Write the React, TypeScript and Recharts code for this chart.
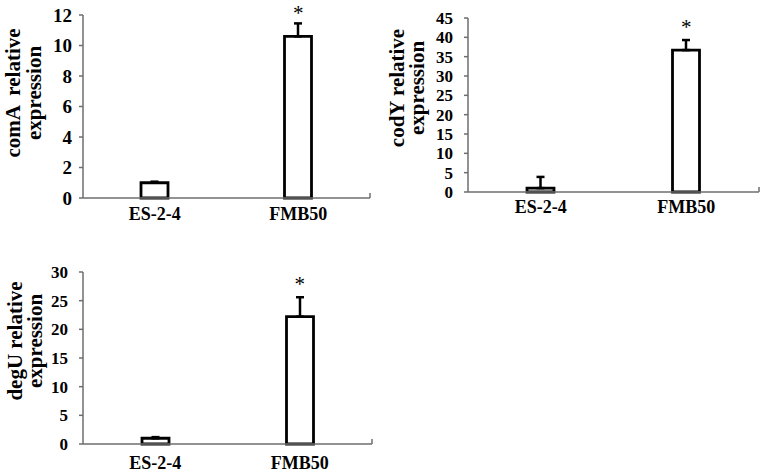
import React from "react";
import {
  BarChart,
  Bar,
  XAxis,
  YAxis,
  ErrorBar,
  ReferenceDot,
} from "recharts";

const categories = ["ES-2-4", "FMB50"];

const comAValues = [1.0, 10.6];
const comAErrors = [0.07, 0.85];
const comATicks = [0, 2, 4, 6, 8, 10, 12];

const codYValues = [1.0, 36.7];
const codYErrors = [2.9, 2.6];
const codYTicks = [0, 5, 10, 15, 20, 25, 30, 35, 40, 45];

const degUValues = [1.0, 22.2];
const degUErrors = [0.2, 3.4];
const degUTicks = [0, 5, 10, 15, 20, 25, 30];

const significance = ["", "*"];

const FONT = '"Liberation Serif", "Times New Roman", serif';
const AXIS = "#6e6e6e";

function buildRows(values: number[], errors: number[]) {
  return categories.map((name, i) => ({
    name,
    value: values[i],
    err: [0, errors[i]],
    top: values[i] + errors[i],
    sig: significance[i],
  }));
}

function XTick(props: any) {
  const { x, payload, index, plotRight, axisY, labelDy } = props;
  return (
    <g>
      <text
        x={x}
        y={axisY + labelDy}
        textAnchor="middle"
        fontFamily={FONT}
        fontWeight="bold"
        fontSize={18}
        fill="#000"
      >
        {payload.value}
      </text>
      {index === categories.length - 1 && (
        <line
          x1={plotRight}
          x2={plotRight}
          y1={axisY}
          y2={axisY - 5}
          stroke={AXIS}
          strokeWidth={1.5}
        />
      )}
    </g>
  );
}

type PanelProps = {
  left: number;
  top: number;
  width: number;
  height: number;
  margin: { top: number; right: number; left: number; bottom: number };
  yWidth: number;
  values: number[];
  errors: number[];
  ticks: number[];
  tickFont: number;
  tickMargin: number;
  line1: string;
  line2: string;
  labelX1: number;
  labelX2: number;
  labelY: number;
  labelDy: number;
  starDy: number;
};

function Panel(p: PanelProps) {
  const rows = buildRows(p.values, p.errors);
  const plotRight = p.width - p.margin.right;
  const axisY = p.height - p.margin.bottom - 30;
  const max = p.ticks[p.ticks.length - 1];
  return (
    <div style={{ position: "absolute", left: p.left, top: p.top }}>
      <BarChart
        width={p.width}
        height={p.height}
        data={rows}
        margin={p.margin}
        barCategoryGap={0}
      >
        <XAxis
          dataKey="name"
          height={30}
          axisLine={{ stroke: AXIS, strokeWidth: 1.5 }}
          tickLine={false}
          interval={0}
          tick={
            <XTick plotRight={plotRight} axisY={axisY} labelDy={p.labelDy} />
          }
        />
        <YAxis
          width={p.yWidth}
          domain={[0, max]}
          ticks={p.ticks}
          interval={0}
          axisLine={{ stroke: AXIS, strokeWidth: 1.5 }}
          tickLine={{ stroke: AXIS, strokeWidth: 1.5 }}
          tickSize={4}
          tickMargin={p.tickMargin}
          tick={{
            fontFamily: FONT,
            fontWeight: "bold",
            fontSize: p.tickFont,
            fill: "#000",
          }}
          label={{
            content: () => (
              <g
                fontFamily={FONT}
                fontWeight="bold"
                fontSize={21}
                fill="#000"
                textAnchor="middle"
              >
                <text
                  transform={`translate(${p.labelX1},${p.labelY}) rotate(-90)`}
                  style={{ whiteSpace: "pre" }}
                >
                  {p.line1}
                </text>
                <text
                  transform={`translate(${p.labelX2},${p.labelY}) rotate(-90)`}
                >
                  {p.line2}
                </text>
              </g>
            ),
          }}
        />
        <Bar
          dataKey="value"
          fill="#fff"
          stroke="#000"
          strokeWidth={2.8}
          barSize={27}
          isAnimationActive={false}
        >
          <ErrorBar
            dataKey="err"
            width={4}
            stroke="#000"
            strokeWidth={2.5}
            direction="y"
            isAnimationActive={false}
          />
        </Bar>
        {rows
          .filter((r) => r.sig)
          .map((r) => (
            <ReferenceDot
              key={r.name}
              x={r.name}
              y={r.top}
              r={0}
              ifOverflow="visible"
              label={{
                value: r.sig,
                position: "top",
                offset: p.starDy,
                fontFamily: FONT,
                fontSize: 21,
                fill: "#000",
              }}
            />
          ))}
      </BarChart>
    </div>
  );
}

export default function App() {
  return (
    <div
      style={{
        position: "absolute",
        left: 0,
        top: 0,
        width: 763,
        height: 473,
        background: "#fff",
      }}
    >
      <Panel
        left={0}
        top={0}
        width={380}
        height={228}
        margin={{ top: 15, right: 10, left: 0, bottom: 0 }}
        yWidth={83}
        values={comAValues}
        errors={comAErrors}
        ticks={comATicks}
        tickFont={19}
        tickMargin={7}
        line1={"comA  relative"}
        line2="expression"
        labelX1={20}
        labelX2={41}
        labelY={93}
        labelDy={22}
        starDy={3}
      />
      <Panel
        left={380}
        top={0}
        width={383}
        height={222}
        margin={{ top: 18, right: 4, left: 0, bottom: 0 }}
        yWidth={88}
        values={codYValues}
        errors={codYErrors}
        ticks={codYTicks}
        tickFont={17}
        tickMargin={11}
        line1="codY relative"
        line2="expression"
        labelX1={24}
        labelX2={44}
        labelY={88}
        labelDy={21}
        starDy={6}
      />
      <Panel
        left={0}
        top={240}
        width={380}
        height={234}
        margin={{ top: 32, right: 8, left: 0, bottom: 0 }}
        yWidth={83}
        values={degUValues}
        errors={degUErrors}
        ticks={degUTicks}
        tickFont={17}
        tickMargin={11}
        line1="degU relative"
        line2="expression"
        labelX1={22}
        labelX2={42}
        labelY={101}
        labelDy={25}
        starDy={6}
      />
    </div>
  );
}
